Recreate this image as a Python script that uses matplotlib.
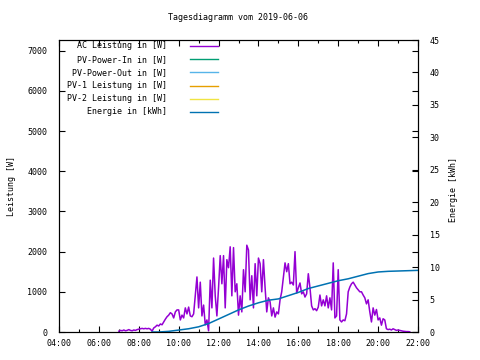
import numpy as np
import matplotlib
matplotlib.use("Agg")
import matplotlib.pyplot as plt
from matplotlib.lines import Line2D
from matplotlib.ticker import MultipleLocator, FuncFormatter

# ---------------- data ----------------
title = "Tagesdiagramm vom 2019-06-06"
ac_start_hour = 7.0          # first AC sample (hours)
ac_step_min = 5              # sample spacing in minutes
ac_power = [
    # 07:00
    20, 40, 30, 50, 30, 40, 60, 40, 30, 50, 40, 60,
    # 08:00
    70, 80, 90, 80, 90, 80, 90, 70, 20, 100, 130, 170,
    # 09:00
    150, 200, 180, 250, 320, 380, 420, 480, 450, 350, 500, 550,
    # 10:00
    550, 300, 420, 350, 600, 450, 620, 400, 380, 450, 920, 1370,
    # 11:00
    600, 1240, 400, 670, 180, 300, 30, 1290, 600, 1840, 900, 400,
    # 12:00
    1100, 1900, 1200, 1900, 600, 1800, 1600, 2120, 900, 2100, 1000, 1200,
    # 13:00
    420, 900, 500, 1550, 1000, 2160, 2040, 800, 1400, 600, 1700, 900,
    # 14:00
    1840, 1700, 1000, 1800, 1100, 500, 850, 750, 400, 600, 370, 500,
    # 15:00
    450, 800, 1000, 1370, 1720, 1500, 1700, 1200, 1240, 1170, 2000, 970,
    # 16:00
    1100, 1220, 950, 1000, 870, 950, 1450, 1100, 650, 550, 580, 530,
    # 17:00
    620, 920, 650, 800, 650, 900, 600, 850, 550, 1720, 350, 400,
    # 18:00
    1550, 300, 250, 300, 280, 450, 1000, 1120, 1200, 1240, 1170, 1100,
    # 19:00
    1050, 1000, 1000, 920, 850, 700, 800, 500, 250, 600, 420, 560,
    # 20:00
    300, 350, 170, 330, 300, 80, 60, 70, 50, 80, 60, 40,
    # 21:00
    50, 40, 30, 20, 15, 10, 10, 5,
]
pv_power_in = []
pv_power_out = []
pv1_power = []
pv2_power = []

energy_hours = [8.67, 9.0, 9.5, 10.0, 10.5, 11.0, 11.5, 12.0, 12.5, 13.0, 13.5,
                14.0, 14.5, 15.0, 15.5, 16.0, 16.5, 17.0, 17.5, 18.0, 18.5,
                19.0, 19.5, 20.0, 20.5, 21.0, 21.5, 22.0]
energy_kwh = [0.0, 0.0, 0.1, 0.3, 0.5, 0.8, 1.3, 2.0, 2.7, 3.4, 4.0,
              4.5, 4.9, 5.1, 5.6, 6.1, 6.7, 7.1, 7.5, 7.9, 8.2,
              8.6, 9.0, 9.25, 9.35, 9.4, 9.45, 9.5]

legend_labels = ["AC Leistung in [W]", "PV-Power-In in [W]", "PV-Power-Out in [W]",
                 "PV-1 Leistung in [W]", "PV-2 Leistung in [W]", "Energie in [kWh]"]
colors = ["#9400d3", "#009e73", "#56b4e9", "#e69f00", "#f0e442", "#0072b2"]

left_label = "Leistung [W]"
right_label = "Energie [kWh]"

# ---------------- plot ----------------
FS = 6
plt.rcParams['font.family'] = ['DejaVu Sans Mono']
fig = plt.figure(figsize=(4.8, 3.6), dpi=100)
ax = fig.add_axes([59/480, 28/360, (418-59)/480, (332-40)/360])
ax2 = ax.twinx()

ac_hours = ac_start_hour + np.arange(len(ac_power)) * ac_step_min / 60.0

ax.plot(ac_hours, ac_power, color=colors[0], lw=1.1, zorder=3)
ax.plot(ac_hours[:len(pv_power_in)], pv_power_in, color=colors[1], lw=1.0)
ax.plot(ac_hours[:len(pv_power_out)], pv_power_out, color=colors[2], lw=1.0)
ax.plot(ac_hours[:len(pv1_power)], pv1_power, color=colors[3], lw=1.0)
ax.plot(ac_hours[:len(pv2_power)], pv2_power, color=colors[4], lw=1.0)
ax2.plot(energy_hours, energy_kwh, color=colors[5], lw=1.1)

ax.set_xlim(4, 22)
ax.set_ylim(0, 7266)
ax2.set_ylim(0, 45)

ax.xaxis.set_major_locator(MultipleLocator(2))
ax.xaxis.set_minor_locator(MultipleLocator(1))
ax.xaxis.set_major_formatter(FuncFormatter(lambda v, p: "%02d:00" % int(round(v))))
ax.yaxis.set_major_locator(MultipleLocator(1000))
ax2.yaxis.set_major_locator(MultipleLocator(5))

ax.tick_params(axis='both', which='both', direction='in', top=True, right=True,
               labelsize=FS, width=0.8, pad=5)
ax.tick_params(which='major', length=4)
ax.tick_params(which='minor', length=2)
ax.tick_params(axis='y', pad=8.5)
ax2.tick_params(axis='y', direction='in', labelsize=FS, length=4, width=0.8, pad=8.5)
for a in (ax, ax2):
    for s in a.spines.values():
        s.set_linewidth(0.8)

fig.text(12/480, 1 - 186/360, left_label, rotation=90, fontsize=FS,
         ha='center', va='center')
fig.text(453/480, 1 - 190/360, right_label, rotation=90, fontsize=FS,
         ha='center', va='center')
fig.text(238/480, 1 - 18/360, title, fontsize=FS, ha='center', va='center')

# legend (gnuplot style: right-aligned text, sample to the right)
for i, (lab, col) in enumerate(zip(legend_labels, colors)):
    y = 1 - (46 + 13.2 * i) / 360
    fig.text(167/480, y, lab, fontsize=FS, ha='right', va='center')
    fig.add_artist(Line2D([190/480, 218/480], [y, y], color=col, lw=1.0,
                          transform=fig.transFigure))

fig.savefig("out.png", dpi=100)
